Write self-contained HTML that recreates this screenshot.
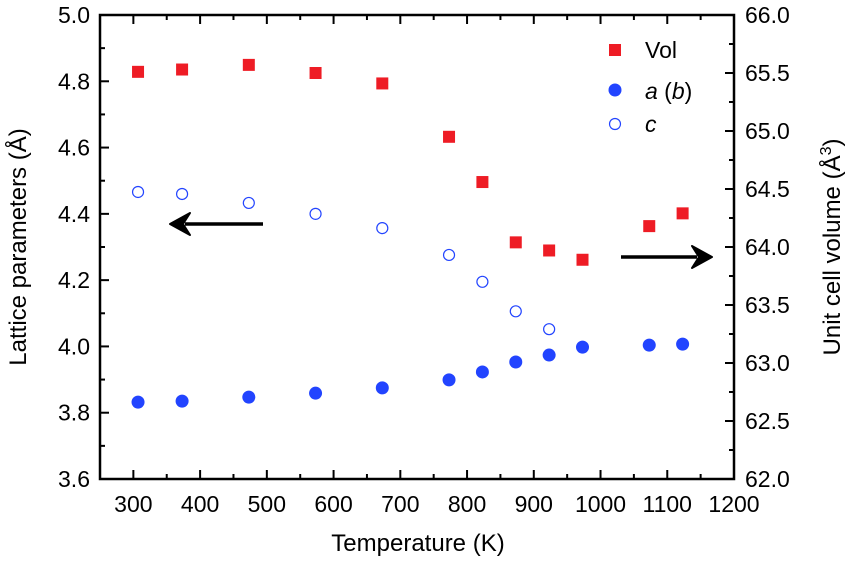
<!DOCTYPE html>
<html><head><meta charset="utf-8"><style>
body{margin:0;background:#fff}
svg text{font-family:"Liberation Sans",Arial,sans-serif;fill:#000}
</style></head><body>
<svg id="chart" width="851" height="559" xmlns="http://www.w3.org/2000/svg"></svg>
<script>
const temps=[307,373,473,573,673,773,823,873,923,973,1073,1123];
const volValues=[65.51,65.53,65.57,65.50,65.41,64.95,64.56,64.04,63.97,63.89,64.18,64.29];
const aValues=[3.832,3.835,3.847,3.859,3.875,3.899,3.923,3.953,3.974,3.998,4.004,4.007];
const cTemps=[307,373,473,573,673,773,823,873,923];
const cValues=[4.466,4.460,4.433,4.400,4.357,4.276,4.195,4.106,4.052];
const xTicks=[300,400,500,600,700,800,900,1000,1100,1200];
const yLeftTicks=["3.6","3.8","4.0","4.2","4.4","4.6","4.8","5.0"];
const yRightTicks=["62.0","62.5","63.0","63.5","64.0","64.5","65.0","65.5","66.0"];
const L=100,R=734,T=15,B=479;
const xS=v=>L+(v-250)/950*(R-L);
const yL=v=>B-(v-3.6)/1.4*(B-T);
const yR=v=>B-(v-62)/4*(B-T);
const svg=document.getElementById('chart');
const NS='http://www.w3.org/2000/svg';
function mk(tag,attrs,txt){const e=document.createElementNS(NS,tag);for(const k in attrs)e.setAttribute(k,attrs[k]);if(txt!==undefined)e.textContent=txt;svg.appendChild(e);return e;}
let e=mk('rect',{x:L,y:T,width:R-L,height:B-T,fill:'none',stroke:'#000','stroke-width':2.5});


xTicks.forEach(t=>{const x=xS(t);
 mk('line',{x1:x,y1:B,x2:x,y2:B-9,stroke:'#000','stroke-width':2});
 mk('line',{x1:x,y1:T,x2:x,y2:T+9,stroke:'#000','stroke-width':2});
 const xm=xS(t-50);mk('line',{x1:xm,y1:B,x2:xm,y2:B-5,stroke:'#000','stroke-width':2});mk('line',{x1:xm,y1:T,x2:xm,y2:T+5,stroke:'#000','stroke-width':2});
 const l=mk('text',{x:x,y:B+33,'text-anchor':'middle','font-size':23},t);
 
 });
yLeftTicks.forEach(s=>{const v=+s,y=yL(v);
 mk('line',{x1:L,y1:y,x2:L+9,y2:y,stroke:'#000','stroke-width':2});
 const ym=yL(v+0.1);if(v<5)mk('line',{x1:L,y1:ym,x2:L+5,y2:ym,stroke:'#000','stroke-width':2});
 const l=mk('text',{x:L-10,y:y+8,'text-anchor':'end','font-size':23},s);
 
 });
yRightTicks.forEach(s=>{const v=+s,y=yR(v);
 mk('line',{x1:R,y1:y,x2:R-9,y2:y,stroke:'#000','stroke-width':2});
 const ym=yR(v+0.25);if(v<66)mk('line',{x1:R,y1:ym,x2:R-5,y2:ym,stroke:'#000','stroke-width':2});
 const l=mk('text',{x:R+11,y:y+8,'font-size':23},s);
 
 });
temps.forEach((t,i)=>{const r=mk('rect',{x:xS(t)-6,y:yR(volValues[i])-6,width:12,height:12,fill:'#ee1c25'});
 
 
 const c=mk('circle',{cx:xS(t),cy:yL(aValues[i]),r:6.5,fill:'#2244ff'});
 
 });
cTemps.forEach((t,i)=>{const c=mk('circle',{cx:xS(t),cy:yL(cValues[i]),r:5.5,fill:'none',stroke:'#2244ff','stroke-width':1.2});
 
 });
mk('rect',{x:609,y:44,width:12,height:12,fill:'#ee1c25'});
mk('circle',{cx:615,cy:90,r:6.5,fill:'#2244ff'});
mk('circle',{cx:615,cy:124,r:5.5,fill:'none',stroke:'#2244ff','stroke-width':1.2});
e=mk('text',{x:645,y:58,'font-size':23},'Vol');
e=mk('text',{x:645,y:99,'font-size':23});e.innerHTML='<tspan font-style="italic">a</tspan> (<tspan font-style="italic">b</tspan>)';
e=mk('text',{x:645,y:132,'font-size':23,'font-style':'italic'},'c');
mk('line',{x1:263,y1:224,x2:185,y2:224,stroke:'#000','stroke-width':3.5});
mk('path',{d:'M190,213 L170,224 L190,235 L183,224 Z',fill:'#000',stroke:'#000','stroke-width':2,'stroke-linejoin':'round'});
e=svg.lastChild;
mk('line',{x1:621,y1:257,x2:697,y2:257,stroke:'#000','stroke-width':3.5});
mk('path',{d:'M692,246 L712,257 L692,268 L699,257 Z',fill:'#000',stroke:'#000','stroke-width':2,'stroke-linejoin':'round'});
e=svg.lastChild;
e=mk('text',{x:418,y:551,'text-anchor':'middle','font-size':24},'Temperature (K)');
e=mk('text',{x:0,y:0,'text-anchor':'middle','font-size':24,transform:'translate(26,247) rotate(-90)'},'Lattice parameters (Å)');
e=mk('text',{x:0,y:0,'text-anchor':'middle','font-size':24,transform:'translate(840,247) rotate(-90)'});e.innerHTML='Unit cell volume (Å<tspan dy="-9" font-size="16">3</tspan><tspan dy="9">)</tspan>';
</script>
</body></html>
